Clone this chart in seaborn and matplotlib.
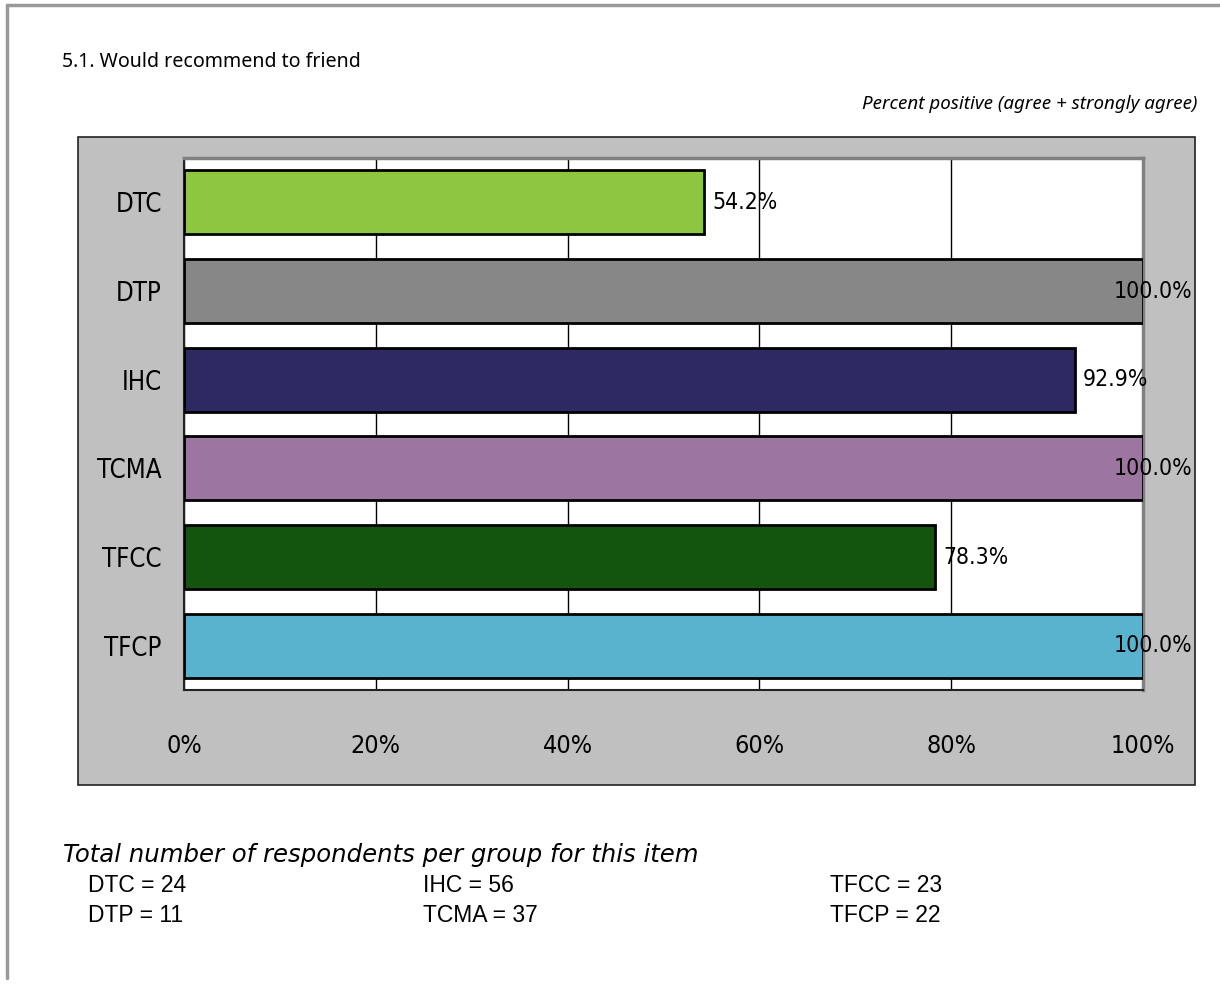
import matplotlib
matplotlib.use("Agg")
import matplotlib.pyplot as plt
import matplotlib.transforms as mtransforms
from matplotlib import font_manager as fm
from matplotlib.patches import Rectangle
from matplotlib.lines import Line2D
import seaborn as sns
import pandas as pd

# ---- data -------------------------------------------------------------
groups = ["DTC", "DTP", "IHC", "TCMA", "TFCC", "TFCP"]
percent_positive = [54.2, 100.0, 92.9, 100.0, 78.3, 100.0]
respondents = [24, 11, 56, 37, 23, 22]
bar_colors = ["#8DC63F", "#878787", "#2E2963", "#9C75A0", "#13540F", "#5AB3CE"]
x_ticks = [0, 20, 40, 60, 80, 100]

title = "5.1. Would recommend to friend"
subtitle = "Percent positive (agree + strongly agree)"
counts_heading = "Total number of respondents per group for this item"

# ---- style ------------------------------------------------------------
sns.set_theme(style="white")
plt.rcParams["font.family"] = ["DejaVu Sans"]


def pick_narrow_font():
    """Prefer a moderately condensed sans for the axis text."""
    fonts = fm.fontManager.ttflist

    def regular(f):
        return f.style == "normal" and f.weight in (400, "normal", "regular")

    for f in fonts:
        if f.name == "Liberation Sans Narrow" and regular(f):
            return fm.FontProperties(fname=f.fname)
    for widths in (("semi-condensed", 87.5), ("condensed", 75)):
        for fam in ("Noto Sans", "Open Sans", "DejaVu Sans", "Roboto"):
            for f in fonts:
                if f.name == fam and regular(f) and f.stretch in widths:
                    return fm.FontProperties(fname=f.fname)
    return fm.FontProperties(family=["Liberation Sans", "DejaVu Sans"])


NARROW = pick_narrow_font()
ARIAL = ["Liberation Sans", "DejaVu Sans"]
HUMANIST = ["Noto Sans", "DejaVu Sans"]

W, H = 1220, 990
fig = plt.figure(figsize=(W / 100, H / 100), dpi=100, facecolor="white")


def fx(px):
    return px / W


def fy(py):
    return 1 - py / H


# page frame (top and left edges)
fig.add_artist(Line2D([fx(7), 1.0], [fy(5), fy(5)], color="#999999", lw=2.5))
fig.add_artist(Line2D([fx(7), fx(7)], [fy(5), fy(978)], color="#999999", lw=2.5))

# grey chart area
fig.add_artist(Rectangle((fx(78), fy(785)), fx(1195) - fx(78), fy(137) - fy(785),
                         facecolor="#C0C0C0", edgecolor="#222222", lw=1.2, zorder=0))

# ---- bar chart --------------------------------------------------------
ax = fig.add_axes([fx(184), fy(690), fx(1143) - fx(184), fy(158) - fy(690)])
ax.set_facecolor("white")

df = pd.DataFrame({"group": groups, "pct": percent_positive})
sns.barplot(data=df, x="pct", y="group", hue="group", palette=bar_colors,
            legend=False, orient="h", width=0.72, saturation=1,
            edgecolor="black", linewidth=2, ax=ax, zorder=3)

ax.set_xlim(0, 100)
ax.set_ylim(len(groups) - 0.5, -0.5)
ax.set_xlabel("")
ax.set_ylabel("")

ax.set_xticks(x_ticks)
ax.set_xticklabels([f"{t}%" for t in x_ticks], fontproperties=NARROW, fontsize=18)
ax.set_yticks(range(len(groups)))
ax.set_yticklabels(groups, fontproperties=NARROW, fontsize=18.5)
ax.set_yticks([i - 0.5 for i in range(len(groups) + 1)], minor=True)

ax.tick_params(axis="y", which="major", length=0, pad=16, colors="black")
ax.tick_params(axis="y", which="minor", length=8, width=1.2, direction="out", color="black")
ax.tick_params(axis="x", which="major", length=8, width=1.2, direction="out",
               color="black", pad=24, labelcolor="black")

ax.set_axisbelow(True)
ax.xaxis.grid(True, color="black", lw=1)
ax.yaxis.grid(False)

for side in ("left", "bottom"):
    ax.spines[side].set_color("#222222")
    ax.spines[side].set_linewidth(1.5)
for side in ("top", "right"):
    ax.spines[side].set_color("#808080")
    ax.spines[side].set_linewidth(2.5)

# value labels: outside the bar end, pulled back inside the chart area when full
edge_tf = mtransforms.blended_transform_factory(fig.transFigure, ax.transData)
for i, v in enumerate(percent_positive):
    label = f"{v:.1f}%"
    if v >= 97:
        ax.text(fx(1192), i, label, transform=edge_tf, ha="right", va="center",
                fontproperties=NARROW, fontsize=16.5, color="black", zorder=5)
    else:
        ax.annotate(label, xy=(v, i), xytext=(6, 0), textcoords="offset points",
                    ha="left", va="center", fontproperties=NARROW, fontsize=16.5,
                    color="black", zorder=5)

# ---- titles and respondent counts -------------------------------------
fig.text(fx(62), fy(62), title, fontfamily=HUMANIST, fontsize=14.1,
         ha="left", va="center", color="black")
fig.text(fx(1197), fy(104), subtitle, fontfamily=HUMANIST, fontsize=13.5,
         style="italic", ha="right", va="center", color="black")
fig.text(fx(63), fy(855), counts_heading, fontsize=17.6, style="italic",
         ha="left", va="center", color="black")

col_x = [88, 423, 830]
row_y = [886, 916]
for k, (g, n) in enumerate(zip(groups, respondents)):
    col, row = divmod(k, 2)
    fig.text(fx(col_x[col]), fy(row_y[row]), f"{g} = {n}", fontfamily=ARIAL,
             fontsize=16.5, ha="left", va="center", color="black")

fig.savefig("out.png", dpi=100, facecolor="white")
